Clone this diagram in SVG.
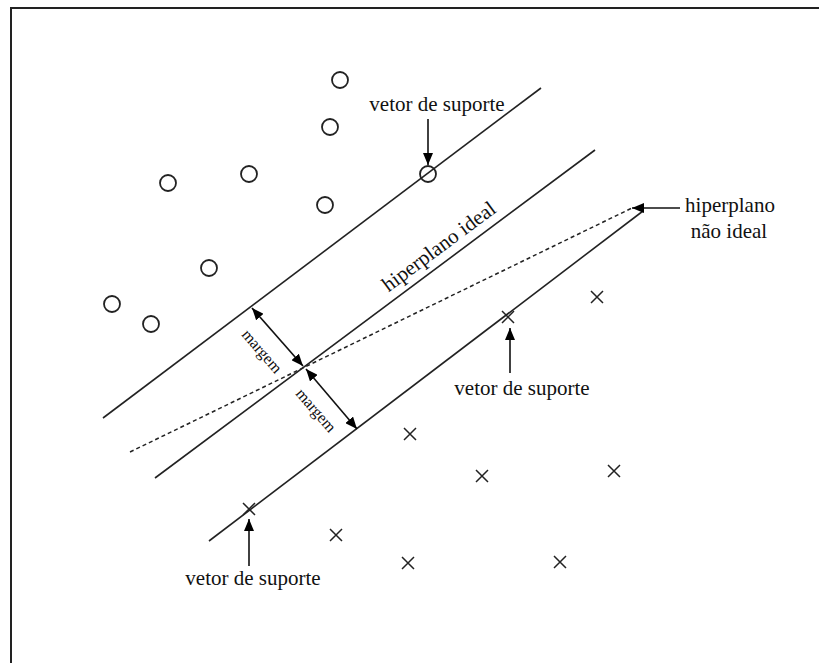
<svg xmlns="http://www.w3.org/2000/svg" width="819" height="663" viewBox="0 0 819 663">
<defs>
<marker id="ah" viewBox="0 0 12 10" refX="12" refY="5" markerWidth="12" markerHeight="10" markerUnits="userSpaceOnUse" orient="auto-start-reverse"><path d="M0,0 L12,5 L0,10 Z" fill="#000"/></marker>
</defs>
<style>
.ln{stroke:#222;stroke-width:1.6;fill:none}
.dash{stroke:#222;stroke-width:1.5;fill:none;stroke-dasharray:4 3}
.pt{fill:none;stroke:#222;stroke-width:1.8}
.ar{stroke:#111;stroke-width:1.6;fill:none;marker-end:url(#ah)}
.ar2{stroke:#111;stroke-width:1.6;fill:none;marker-end:url(#ah);marker-start:url(#ah)}
text{font-family:"Liberation Serif","Times New Roman",serif;fill:#111}
.lb{font-size:21px;text-anchor:middle}
.mg{font-size:16px;text-anchor:middle}
</style>
<rect width="819" height="663" fill="#fff"/>
<path d="M11,663 V8 H819" stroke="#222" stroke-width="2" fill="none"/>
<g id="hyperplanes">
<path class="ln" d="M103,418 L541,88"/>
<path class="ln" d="M155,478 L595,150"/>
<path class="ln" d="M209,541 L643,211"/>
<path class="dash" d="M130,452 L632,208"/>
</g>
<g id="circles" class="pt">
<circle cx="340" cy="80" r="8"/>
<circle cx="330" cy="127" r="8"/>
<circle cx="168" cy="183" r="8"/>
<circle cx="249" cy="174" r="8"/>
<circle cx="325" cy="205" r="8"/>
<circle cx="428" cy="174" r="8"/>
<circle cx="209" cy="268" r="8"/>
<circle cx="112" cy="304" r="8"/>
<circle cx="151" cy="324" r="8"/>
</g>
<g id="crosses" class="pt" style="stroke-width:1.5">
<path d="M591,291 l12,12 M603,291 l-12,12"/>
<path d="M502,311 l12,12 M514,311 l-12,12"/>
<path d="M404,428 l12,12 M416,428 l-12,12"/>
<path d="M476,470 l12,12 M488,470 l-12,12"/>
<path d="M608,465 l12,12 M620,465 l-12,12"/>
<path d="M243,503 l12,12 M255,503 l-12,12"/>
<path d="M330,529 l12,12 M342,529 l-12,12"/>
<path d="M402,557 l12,12 M414,557 l-12,12"/>
<path d="M554,556 l12,12 M566,556 l-12,12"/>
</g>
<g id="connectors">
<path class="ar" d="M428,119 V165"/>
<path class="ar" d="M510,373 V328"/>
<path class="ar" d="M249,566 V519"/>
<path class="ar" d="M680,208 H632"/>
<path class="ar2" d="M252,308 L303,366"/>
<path class="ar2" d="M306,369 L357,429"/>
</g>
<g id="labels">
<text class="lb" x="437" y="111">vetor de suporte</text>
<text class="lb" x="522" y="395">vetor de suporte</text>
<text class="lb" x="253" y="585">vetor de suporte</text>
<text class="lb" x="730" y="212">hiperplano</text>
<text class="lb" x="729" y="238">não ideal</text>
<text class="lb" transform="translate(443,252) rotate(-36.7)">hiperplano ideal</text>
<text class="mg" transform="translate(261,352) rotate(49)" y="4">margem</text>
<text class="mg" transform="translate(315,411) rotate(49)" y="4">margem</text>
</g>
</svg>
